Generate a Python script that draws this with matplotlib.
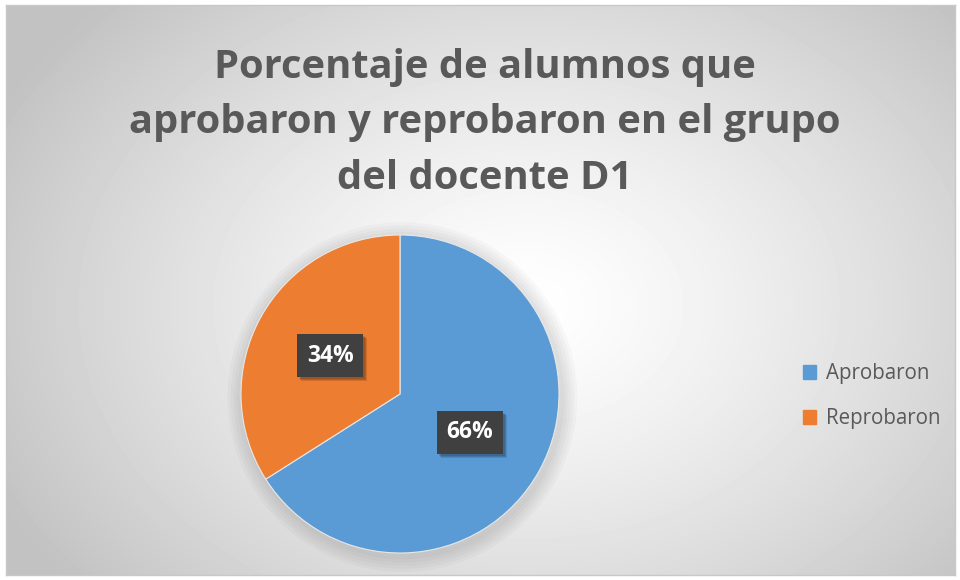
import numpy as np
import matplotlib.pyplot as plt
import matplotlib.patches as mpatches

# datos del grafico
categorias = ['Aprobaron', 'Reprobaron']
porcentajes = [66, 34]
colores = ['#5B9BD5', '#ED7D31']
titulo = 'Porcentaje de alumnos que\naprobaron y reprobaron en el grupo\ndel docente D1'

fig = plt.figure(figsize=(9.6, 5.8), dpi=100)
fig.patch.set_facecolor('white')

# fondo con degradado radial
bg = fig.add_axes([6/960, 5/580, 949/960, 570/580])
yy, xx = np.mgrid[0:570, 0:949]
d = np.sqrt(((xx - 520) / 700.0) ** 2 + ((yy - 300) / 520.0) ** 2)
g = np.clip(1.0 - 0.30 * d ** 1.3, 0.76, 1.0)
bg.imshow(g, cmap='gray', vmin=0, vmax=1, aspect='auto', interpolation='bilinear')
bg.set_xticks([])
bg.set_yticks([])
for s in bg.spines.values():
    s.set_color('#c8c8c8')
    s.set_linewidth(1)

fig.text(485/960, 1 - 123/580, titulo, ha='center', va='center',
         fontsize=28.7, fontweight='bold', color='#595959', family='Open Sans',
         linespacing=1.55)

# pastel
r_px = 159
ax = fig.add_axes([(400 - r_px) / 960, 1 - (394 + r_px) / 580, 2 * r_px / 960, 2 * r_px / 580])
ax.set_aspect('equal')
# sombra suave
for i in range(5):
    ax.add_patch(mpatches.Circle((0.015, -0.02), 1.0 + 0.02 * (i + 1), color='black',
                                 alpha=0.025, lw=0, zorder=0, clip_on=False))
wedges, _ = ax.pie(porcentajes, colors=colores, startangle=90, counterclock=False,
                   radius=1.0, wedgeprops=dict(linewidth=0.8, edgecolor='#e8e8e8'))
for w in wedges:
    w.set_zorder(2)
ax.set_xlim(-1, 1)
ax.set_ylim(-1, 1)
ax.axis('off')

# etiquetas de datos
etiquetas = []
for w, p in zip(wedges, porcentajes):
    th = np.deg2rad((w.theta1 + w.theta2) / 2)
    x, y = 0.5 * np.cos(th), 0.5 * np.sin(th)
    t = ax.text(x, y, f'{p}%', ha='center', va='center', fontsize=16.5,
                fontweight='bold', color='white', family='Open Sans', zorder=5,
                bbox=dict(boxstyle='square,pad=0.42', fc='#404040', ec='none'))
    etiquetas.append(t)

# sombra de las etiquetas
fig.canvas.draw()
r = fig.canvas.get_renderer()
for t in etiquetas:
    bb = t.get_bbox_patch().get_window_extent(r)
    for k in range(3):
        ax.add_patch(mpatches.Rectangle((bb.x0 + 2 + k, bb.y0 - 2 - k), bb.width, bb.height,
                                        transform=None, fc='black', ec='none', alpha=0.12,
                                        zorder=3, clip_on=False))

# leyenda
handles = [mpatches.Patch(color=c, label=l) for c, l in zip(colores, categorias)]
leg = fig.legend(handles=handles, loc='center left', bbox_to_anchor=(784/960, 1 - 396/580),
                 frameon=False, handlelength=0.68, handleheight=0.68,
                 handletextpad=0.45, labelspacing=1.15, prop={'family': 'Open Sans', 'size': 14.8})
for t in leg.get_texts():
    t.set_color('#595959')

fig.savefig('out.png', dpi=100)
